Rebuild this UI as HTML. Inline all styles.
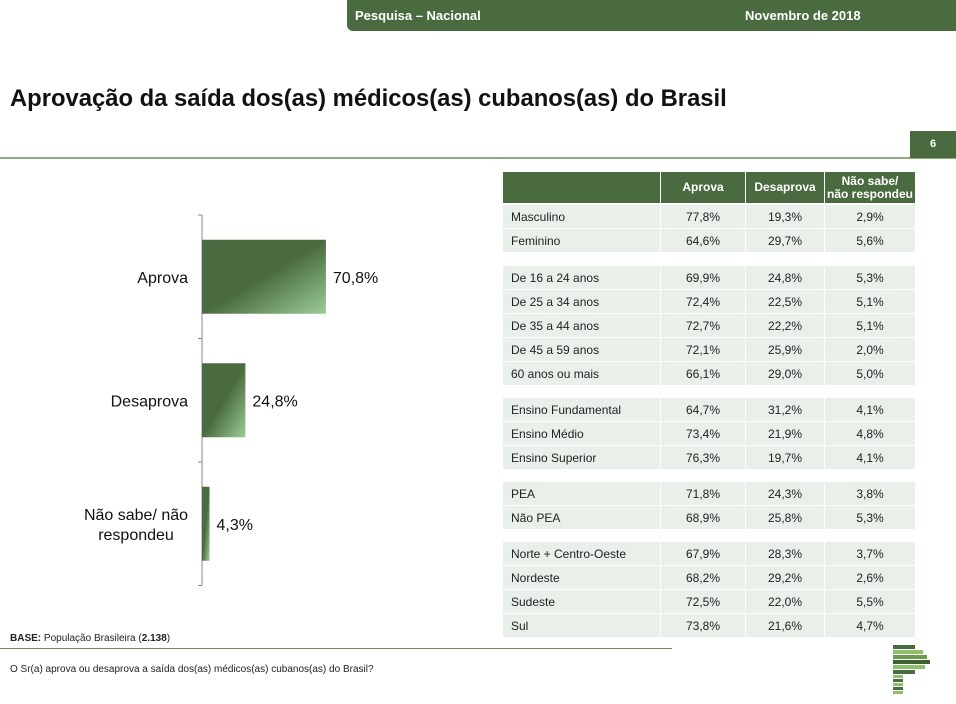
<!DOCTYPE html>
<html><head><meta charset="utf-8">
<style>
body{margin:0;width:956px;height:704px;position:relative;background:#fff;font-family:"Liberation Sans",sans-serif;overflow:hidden}
.abs{position:absolute}
.topbar{left:347px;top:0;width:609px;height:31px;background:#4a6b3f;border-bottom-left-radius:6px;color:#fff;font-weight:bold;font-size:13px}
.cell{position:absolute;font-size:12px;color:#222;line-height:24px;height:23px;background:#e8f0e9}
.hd{position:absolute;background:#4a6b3f;color:#fff;font-weight:bold;font-size:12px;text-align:center;display:flex;align-items:center;justify-content:center;line-height:13px}
</style></head><body>
<div class="abs topbar">
<span class="abs" style="left:8px;top:8px">Pesquisa – Nacional</span>
<span class="abs" style="left:398px;top:8px">Novembro de 2018</span>
</div>
<div class="abs" style="left:10px;top:85px;font-size:23.8px;font-weight:bold;color:#111">Aprovação da saída dos(as) médicos(as) cubanos(as) do Brasil</div>
<div class="abs" style="left:0;top:157px;width:956px;height:2px;background:#8faa84"></div>
<div class="abs" style="left:910px;top:131px;width:46px;height:27px;background:#4a6b3f;color:#fff;font-size:11px;font-weight:bold;line-height:27px;text-align:center">6</div>

<svg class="abs" style="left:0;top:0" width="500" height="620" id="chart">
<defs><linearGradient id="g" x1="0" y1="0" x2="1" y2="1"><stop offset="0.5" stop-color="#4a6b40"/><stop offset="1" stop-color="#9ccc98"/></linearGradient></defs>
</svg>

<div class="abs" style="left:10px;top:633px;font-size:10px;color:#222"><b>BASE:</b> População Brasileira (<b>2.138</b>)</div>
<div class="abs" style="left:0;top:648px;width:672px;height:1px;background:#6c8a60"></div>
<div class="abs" style="left:10px;top:664px;font-size:10px;color:#222">O Sr(a) aprova ou desaprova a saída dos(as) médicos(as) cubanos(as) do Brasil?</div>
<svg class="abs" style="left:893px;top:645px" width="40" height="52">
<rect x="0" y="0" width="22" height="4" fill="#4a6b3f"/><rect x="0" y="5" width="30" height="4" fill="#8fbf6a"/><rect x="0" y="10" width="34" height="4" fill="#6d9a4f"/><rect x="0" y="15" width="37" height="4" fill="#3f6030"/><rect x="0" y="20" width="32" height="4" fill="#8fbf6a"/><rect x="0" y="25" width="22" height="4" fill="#4a6b3f"/><rect x="0" y="30" width="10" height="3" fill="#8fbf6a"/><rect x="0" y="34" width="10" height="3" fill="#4a6b3f"/><rect x="0" y="38" width="10" height="3" fill="#8fbf6a"/><rect x="0" y="42" width="10" height="3" fill="#4a6b3f"/><rect x="0" y="46" width="10" height="3" fill="#8fbf6a"/>
</svg>
<div id="table"></div>

<script>
const categories=["Aprova","Desaprova","Não sabe/ não respondeu"];
const values=[70.8,24.8,4.3];
const valueLabels=["70,8%","24,8%","4,3%"];
const svg=document.getElementById('chart');
const NS="http://www.w3.org/2000/svg";
const x0=202, pxPer=1.75, yTop=215, band=123.5, barH=74;
function xs(v){return x0+v*pxPer;}
function mk(t,a){const e=document.createElementNS(NS,t);for(const k in a)e.setAttribute(k,a[k]);svg.appendChild(e);return e;}
const ax=mk('line',{x1:x0,y1:yTop,x2:x0,y2:yTop+band*3,stroke:'#888','stroke-width':1});


for(let i=0;i<=3;i++){const t=mk('line',{x1:x0-4,y1:yTop+band*i,x2:x0,y2:yTop+band*i,stroke:'#888'});

}
categories.forEach((c,i)=>{
 const yc=yTop+band*i+band/2;
 const r=mk('rect',{x:x0,y:yc-barH/2,width:xs(values[i])-x0,height:barH,fill:'url(#g)'});
 
 
 const v=mk('text',{x:xs(values[i])+7,y:yc+6,'font-size':16,fill:'#111','font-family':'Liberation Sans'});v.textContent=valueLabels[i];
 
 
 const parts=c==="Não sabe/ não respondeu"?["Não sabe/ não","respondeu"]:[c];
 const multi=parts.length>1;
 parts.forEach((p,j)=>{const t=mk('text',{x:multi?136:188,y:yc+6+(j-(parts.length-1)/2)*20,'font-size':16,fill:'#111','text-anchor':multi?'middle':'end','font-family':'Liberation Sans'});t.textContent=p;
 
 });
});

const rowLabels=["Masculino","Feminino","De 16 a 24 anos","De 25 a 34 anos","De 35 a 44 anos","De 45 a 59 anos","60 anos ou mais","Ensino Fundamental","Ensino Médio","Ensino Superior","PEA","Não PEA","Norte + Centro-Oeste","Nordeste","Sudeste","Sul"];
const aprova=["77,8%","64,6%","69,9%","72,4%","72,7%","72,1%","66,1%","64,7%","73,4%","76,3%","71,8%","68,9%","67,9%","68,2%","72,5%","73,8%"];
const desaprova=["19,3%","29,7%","24,8%","22,5%","22,2%","25,9%","29,0%","31,2%","21,9%","19,7%","24,3%","25,8%","28,3%","29,2%","22,0%","21,6%"];
const naoSabe=["2,9%","5,6%","5,3%","5,1%","5,1%","2,0%","5,0%","4,1%","4,8%","4,1%","3,8%","5,3%","3,7%","2,6%","5,5%","4,7%"];
const rowTops=[205,229,266,290,314,338,362,398,422,446,482,506,542,566,590,614];
const cols=[[503,157],[661,84],[746,78],[825,90]];
const tb=document.getElementById('table');
const heads=["","Aprova","Desaprova","Não sabe/<br>não respondeu"];
heads.forEach((h,i)=>{const d=document.createElement('div');d.className='hd';
d.style.cssText=`left:${cols[i][0]}px;top:172px;width:${cols[i][1]}px;height:31px`;d.innerHTML=h;


tb.appendChild(d);});
rowLabels.forEach((l,r)=>{
 const vals=[l,aprova[r],desaprova[r],naoSabe[r]];
 vals.forEach((v,i)=>{const d=document.createElement('div');d.className='cell';
 d.style.cssText=`left:${cols[i][0]}px;top:${rowTops[r]}px;width:${cols[i][1]-(i==0?8:0)}px;text-align:${i==0?'left':'center'};padding-left:${i==0?8:0}px`;
 d.textContent=v;
 
 
 tb.appendChild(d);});
});
</script>
</body></html>
